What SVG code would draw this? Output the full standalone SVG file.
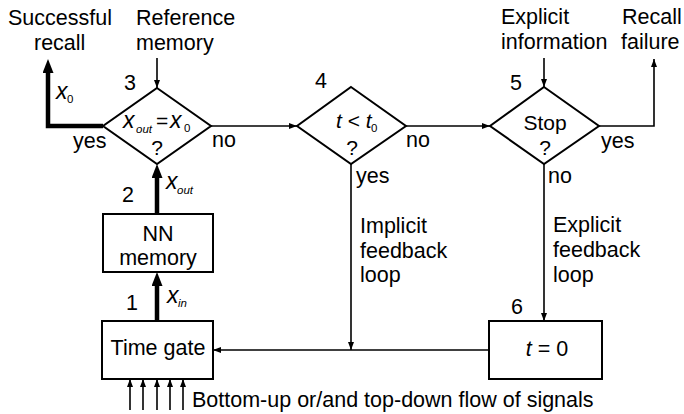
<svg xmlns="http://www.w3.org/2000/svg" width="684" height="414" viewBox="0 0 684 414">
  <style>
    text { font-family: "Liberation Sans", Arial, sans-serif; font-size: 21.5px; fill: #000; }
    .it { font-style: italic; }
    .var { font-style: italic; font-size: 23px; }
    .sub { font-size: 11.5px; }
    .mid { text-anchor: middle; }
    .shape { fill: #fff; stroke: #000; stroke-width: 2; }
    .thin { fill: none; stroke: #000; stroke-width: 1.6; }
    .thick { fill: none; stroke: #000; stroke-width: 4.5; }
  </style>
  <defs>
    <marker id="a-thin" markerUnits="userSpaceOnUse" markerWidth="9" markerHeight="7" refX="8" refY="3" orient="auto">
      <path d="M0,0 L8,3 L0,6 z" fill="#000"/>
    </marker>
    <marker id="a-thick" markerUnits="userSpaceOnUse" markerWidth="15" markerHeight="11" refX="0" refY="5.5" orient="auto">
      <path d="M0,0 L14,5.5 L0,11 z" fill="#000"/>
    </marker>
  </defs>

  <!-- connectors -->
  <g id="connectors">
    <line class="thin" x1="157" y1="58" x2="157" y2="88" marker-end="url(#a-thin)"/>
    <line class="thin" x1="544" y1="58" x2="544" y2="87" marker-end="url(#a-thin)"/>
    <line class="thin" x1="211" y1="126" x2="297" y2="126" marker-end="url(#a-thin)"/>
    <line class="thin" x1="406" y1="126" x2="490" y2="126" marker-end="url(#a-thin)"/>
    <polyline class="thin" points="599,126 654,126 654,59" marker-end="url(#a-thin)"/>
    <line class="thin" x1="351" y1="164" x2="351" y2="350" marker-end="url(#a-thin)"/>
    <line class="thin" x1="544" y1="164" x2="544" y2="321" marker-end="url(#a-thin)"/>
    <line class="thin" x1="489" y1="350" x2="213" y2="350" marker-end="url(#a-thin)"/>
    <polyline class="thick" points="103,126 48,126 48,73" marker-end="url(#a-thick)"/>
    <line class="thick" x1="157" y1="321" x2="157" y2="286" marker-end="url(#a-thick)"/>
    <line class="thick" x1="157" y1="214" x2="157" y2="178" marker-end="url(#a-thick)"/>
    <line class="thin" x1="130" y1="410" x2="130" y2="379" marker-end="url(#a-thin)"/>
    <line class="thin" x1="143" y1="410" x2="143" y2="379" marker-end="url(#a-thin)"/>
    <line class="thin" x1="157" y1="410" x2="157" y2="379" marker-end="url(#a-thin)"/>
    <line class="thin" x1="170" y1="410" x2="170" y2="379" marker-end="url(#a-thin)"/>
    <line class="thin" x1="183" y1="410" x2="183" y2="379" marker-end="url(#a-thin)"/>
  </g>

  <!-- connector labels -->
  <g id="labels">
    <text x="8" y="25">Successful</text>
    <text x="34" y="50">recall</text>
    <text x="136" y="25">Reference</text>
    <text x="136" y="50">memory</text>
    <text x="501" y="24">Explicit</text>
    <text x="501" y="49">information</text>
    <text x="622" y="24">Recall</text>
    <text x="621" y="49">failure</text>
    <text x="56" y="99" class="var">x</text><text x="67" y="103" class="sub">0</text>
    <text x="166" y="189" class="var">x</text><text x="177" y="194" class="sub it">out</text>
    <text x="167" y="303" class="var">x</text><text x="178" y="307" class="sub it">in</text>
    <text x="73" y="148">yes</text>
    <text x="212" y="147">no</text>
    <text x="406" y="147">no</text>
    <text x="356" y="183">yes</text>
    <text x="601" y="148">yes</text>
    <text x="548" y="183">no</text>
    <text x="360" y="233">Implicit</text>
    <text x="360" y="258">feedback</text>
    <text x="360" y="282">loop</text>
    <text x="553" y="232">Explicit</text>
    <text x="553" y="257">feedback</text>
    <text x="553" y="282">loop</text>
    <text x="192" y="407">Bottom-up or/and top-down flow of signals</text>
  </g>

  <!-- node 1: time gate -->
  <g id="n1-time-gate">
    <rect class="shape" x="102" y="321" width="111" height="58"/>
    <text x="158" y="355" class="mid">Time gate</text>
    <text x="126" y="310">1</text>
  </g>

  <!-- node 2: NN memory -->
  <g id="n2-nn-memory">
    <rect class="shape" x="103" y="214" width="110" height="58"/>
    <text x="158" y="241" class="mid">NN</text>
    <text x="158" y="265" class="mid">memory</text>
    <text x="122" y="202">2</text>
  </g>

  <!-- node 3: output matches reference -->
  <g id="n3-compare">
    <polygon class="shape" points="157,88 211,126 157,164 103,126"/>
    <text x="123" y="128" class="var">x</text>
    <text x="136" y="133" class="sub it">out</text>
    <text x="156" y="128" style="font-size:21px">=</text>
    <text x="170" y="128" class="var">x</text>
    <text x="184" y="132" class="sub">0</text>
    <text x="157" y="155" class="mid" style="font-size:21px">?</text>
    <text x="124" y="90">3</text>
  </g>

  <!-- node 4: time check -->
  <g id="n4-time">
    <polygon class="shape" points="351,87 406,126 351,164 297,126"/>
    <text x="336" y="128" style="font-size:21px"><tspan class="it">t</tspan> &lt; <tspan class="it">t</tspan></text>
    <text x="371" y="132" class="sub">0</text>
    <text x="352" y="155" class="mid" style="font-size:21px">?</text>
    <text x="315" y="88">4</text>
  </g>

  <!-- node 5: stop check -->
  <g id="n5-stop">
    <polygon class="shape" points="544,87 599,126 544,164 490,126"/>
    <text x="545" y="130" class="mid" style="font-size:21px">Stop</text>
    <text x="545" y="155" class="mid" style="font-size:21px">?</text>
    <text x="510" y="90">5</text>
  </g>

  <!-- node 6: reset timer -->
  <g id="n6-reset">
    <rect class="shape" x="489" y="321" width="113" height="58"/>
    <text x="547" y="356" class="mid"><tspan class="it">t</tspan> = 0</text>
    <text x="511" y="314">6</text>
  </g>
</svg>
